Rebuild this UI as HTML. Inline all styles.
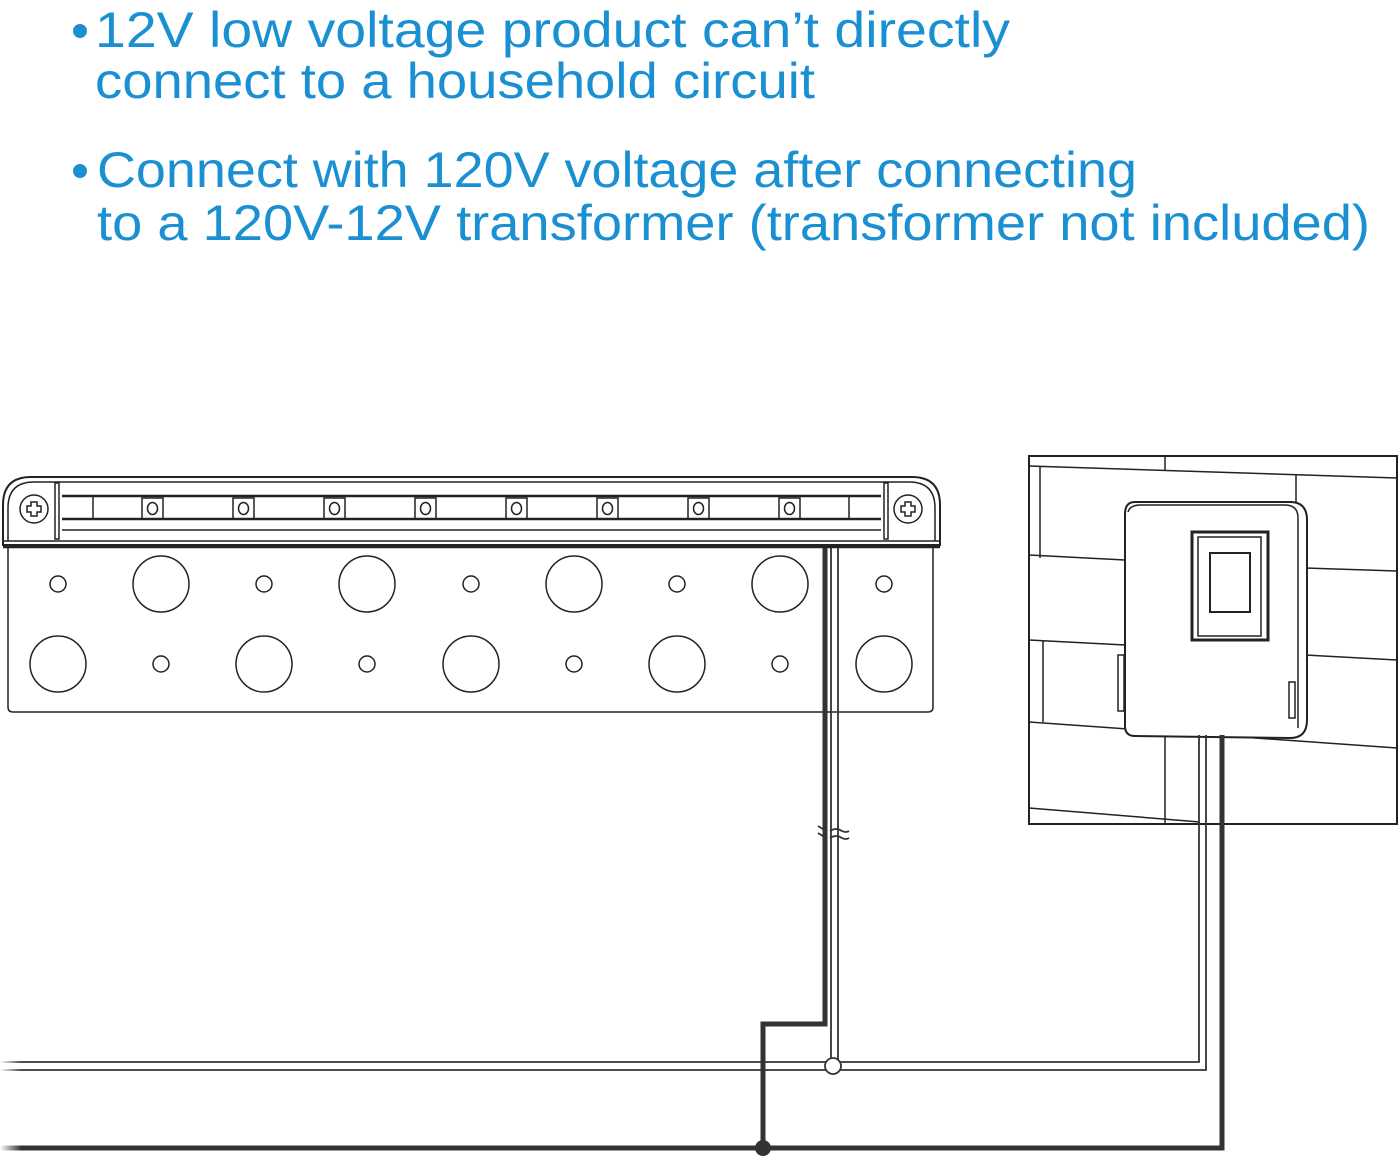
<!DOCTYPE html>
<html><head><meta charset="utf-8"><style>html,body{margin:0;padding:0;background:#fff}svg{display:block}</style></head>
<body>
<svg width="1400" height="1160" viewBox="0 0 1400 1160" xmlns="http://www.w3.org/2000/svg">
<defs>
<linearGradient id="fadeL" x1="0" x2="1"><stop offset="0" stop-color="#fff" stop-opacity="1"/><stop offset="0.12" stop-color="#fff" stop-opacity="0"/></linearGradient>
</defs>
<g font-family="Liberation Sans, sans-serif" font-size="50" fill="#1a90d2">
<circle cx="80" cy="31" r="7"/>
<text x="95" y="47" textLength="915" lengthAdjust="spacingAndGlyphs">12V low voltage product can’t directly</text>
<text x="95" y="98" textLength="720" lengthAdjust="spacingAndGlyphs">connect to a household circuit</text>
<circle cx="80" cy="171" r="7"/>
<text x="97" y="187" textLength="1040" lengthAdjust="spacingAndGlyphs">Connect with 120V voltage after connecting</text>
<text x="97" y="240" textLength="1273" lengthAdjust="spacingAndGlyphs">to a 120V-12V transformer (transformer not included)</text>
</g>

<g fill="none" stroke="#222" stroke-width="1.5">
<!-- bracket top -->
<path d="M3 545 V505 Q3 477 31 477 H912 Q940 477 940 505 V545 Z" stroke-width="2"/>
<path d="M8 541 V508 Q8 482 34 482 H909 Q935 482 935 508 V541"/>
<line x1="3" y1="541" x2="940" y2="541"/>
<line x1="3" y1="547" x2="940" y2="547" stroke-width="2.5"/>
<rect x="55" y="483" width="4" height="56"/>
<rect x="884" y="483" width="4" height="56"/>
<line x1="62" y1="496" x2="881" y2="496" stroke-width="2.5"/>
<line x1="62" y1="519" x2="881" y2="519" stroke-width="2.5"/>
<line x1="62" y1="530" x2="881" y2="530"/>
<line x1="93" y1="496" x2="93" y2="519"/>
<line x1="849" y1="496" x2="849" y2="519"/>
<circle cx="34" cy="509" r="14"/>
<circle cx="908" cy="509" r="14"/>
<path d="M31 502h6v4h4v6h-4v4h-6v-4h-4v-6h4z"/>
<path d="M905 502h6v4h4v6h-4v4h-6v-4h-4v-6h4z"/>
<g>
<rect x="142" y="498" width="21" height="21"/><ellipse cx="152.5" cy="508.5" rx="5" ry="6"/>
<rect x="233" y="498" width="21" height="21"/><ellipse cx="243.5" cy="508.5" rx="5" ry="6"/>
<rect x="324" y="498" width="21" height="21"/><ellipse cx="334.5" cy="508.5" rx="5" ry="6"/>
<rect x="415" y="498" width="21" height="21"/><ellipse cx="425.5" cy="508.5" rx="5" ry="6"/>
<rect x="506" y="498" width="21" height="21"/><ellipse cx="516.5" cy="508.5" rx="5" ry="6"/>
<rect x="597" y="498" width="21" height="21"/><ellipse cx="607.5" cy="508.5" rx="5" ry="6"/>
<rect x="688" y="498" width="21" height="21"/><ellipse cx="698.5" cy="508.5" rx="5" ry="6"/>
<rect x="779" y="498" width="21" height="21"/><ellipse cx="789.5" cy="508.5" rx="5" ry="6"/>
</g>
<!-- plate -->
<path d="M8 548 V707 Q8 712 13 712 H928 Q933 712 933 707 V548"/>
<g>
<circle cx="58" cy="584" r="8"/><circle cx="264" cy="584" r="8"/><circle cx="471" cy="584" r="8"/><circle cx="677" cy="584" r="8"/><circle cx="884" cy="584" r="8"/>
<ellipse cx="161" cy="584" rx="28" ry="28"/><ellipse cx="367" cy="584" rx="28" ry="28"/><ellipse cx="574" cy="584" rx="28" ry="28"/><ellipse cx="780" cy="584" rx="28" ry="28"/>
<ellipse cx="58" cy="664" rx="28" ry="28"/><ellipse cx="264" cy="664" rx="28" ry="28"/><ellipse cx="471" cy="664" rx="28" ry="28"/><ellipse cx="677" cy="664" rx="28" ry="28"/><ellipse cx="884" cy="664" rx="28" ry="28"/>
<circle cx="161" cy="664" r="8"/><circle cx="367" cy="664" r="8"/><circle cx="574" cy="664" r="8"/><circle cx="780" cy="664" r="8"/>
</g>

<!-- wall -->
<rect x="1029" y="456" width="368" height="368" stroke-width="2"/>
<path d="M1029 466 L1397 478 M1165 456 V470 M1040 466 V558 M1029 555 L1125 560 M1305 568 L1397 571 M1029 640 L1125 645 M1305 655 L1397 660 M1043 640 V722 M1029 722 L1397 748 M1165 730 V824 M1029 808 L1200 822 M1296 475 V508"/>
<!-- transformer -->
<path d="M1135 502 H1290 Q1307 502 1307 520 V720 Q1307 738 1290 738 L1135 736 Q1125 736 1125 726 V514 Q1125 502 1135 502 Z" fill="#fff" stroke-width="2"/>
<path d="M1128 512 Q1130 505 1140 505 H1285 Q1298 505 1298 518 V728" />
<rect x="1192" y="532" width="76" height="108" stroke-width="3"/>
<rect x="1198" y="537" width="63" height="99"/>
<rect x="1210" y="553" width="40" height="59" stroke-width="2"/>
<rect x="1118" y="655" width="6" height="56"/>
<rect x="1289" y="682" width="6" height="36"/>
</g>

<!-- wires -->
<g fill="none" stroke="#333">
<polyline points="825,548 825,1024 763,1024 763,1148" stroke-width="5"/>
<polyline points="0,1148 1222,1148 1222,735" stroke-width="5"/>
<line x1="831" y1="548" x2="831" y2="1062" stroke-width="1.8"/>
<line x1="838" y1="548" x2="838" y2="1062" stroke-width="1.8"/>
<polyline points="0,1062 1199,1062 1199,735" stroke-width="1.8"/>
<polyline points="0,1070 1206,1070 1206,735" stroke-width="1.8"/>
<path d="M818 826 l8 5 M818 833 l8 5 M830 831 q6 -4 12 0 q4 2 7 0 M830 838 q6 -4 12 0 q4 2 7 0" stroke-width="1.8"/>
</g>
<rect x="0" y="1055" width="180" height="100" fill="url(#fadeL)"/>
<circle cx="833" cy="1066" r="8" fill="#fff" stroke="#333" stroke-width="1.8"/>
<circle cx="763" cy="1148" r="8" fill="#333"/>
</svg>
</body></html>
